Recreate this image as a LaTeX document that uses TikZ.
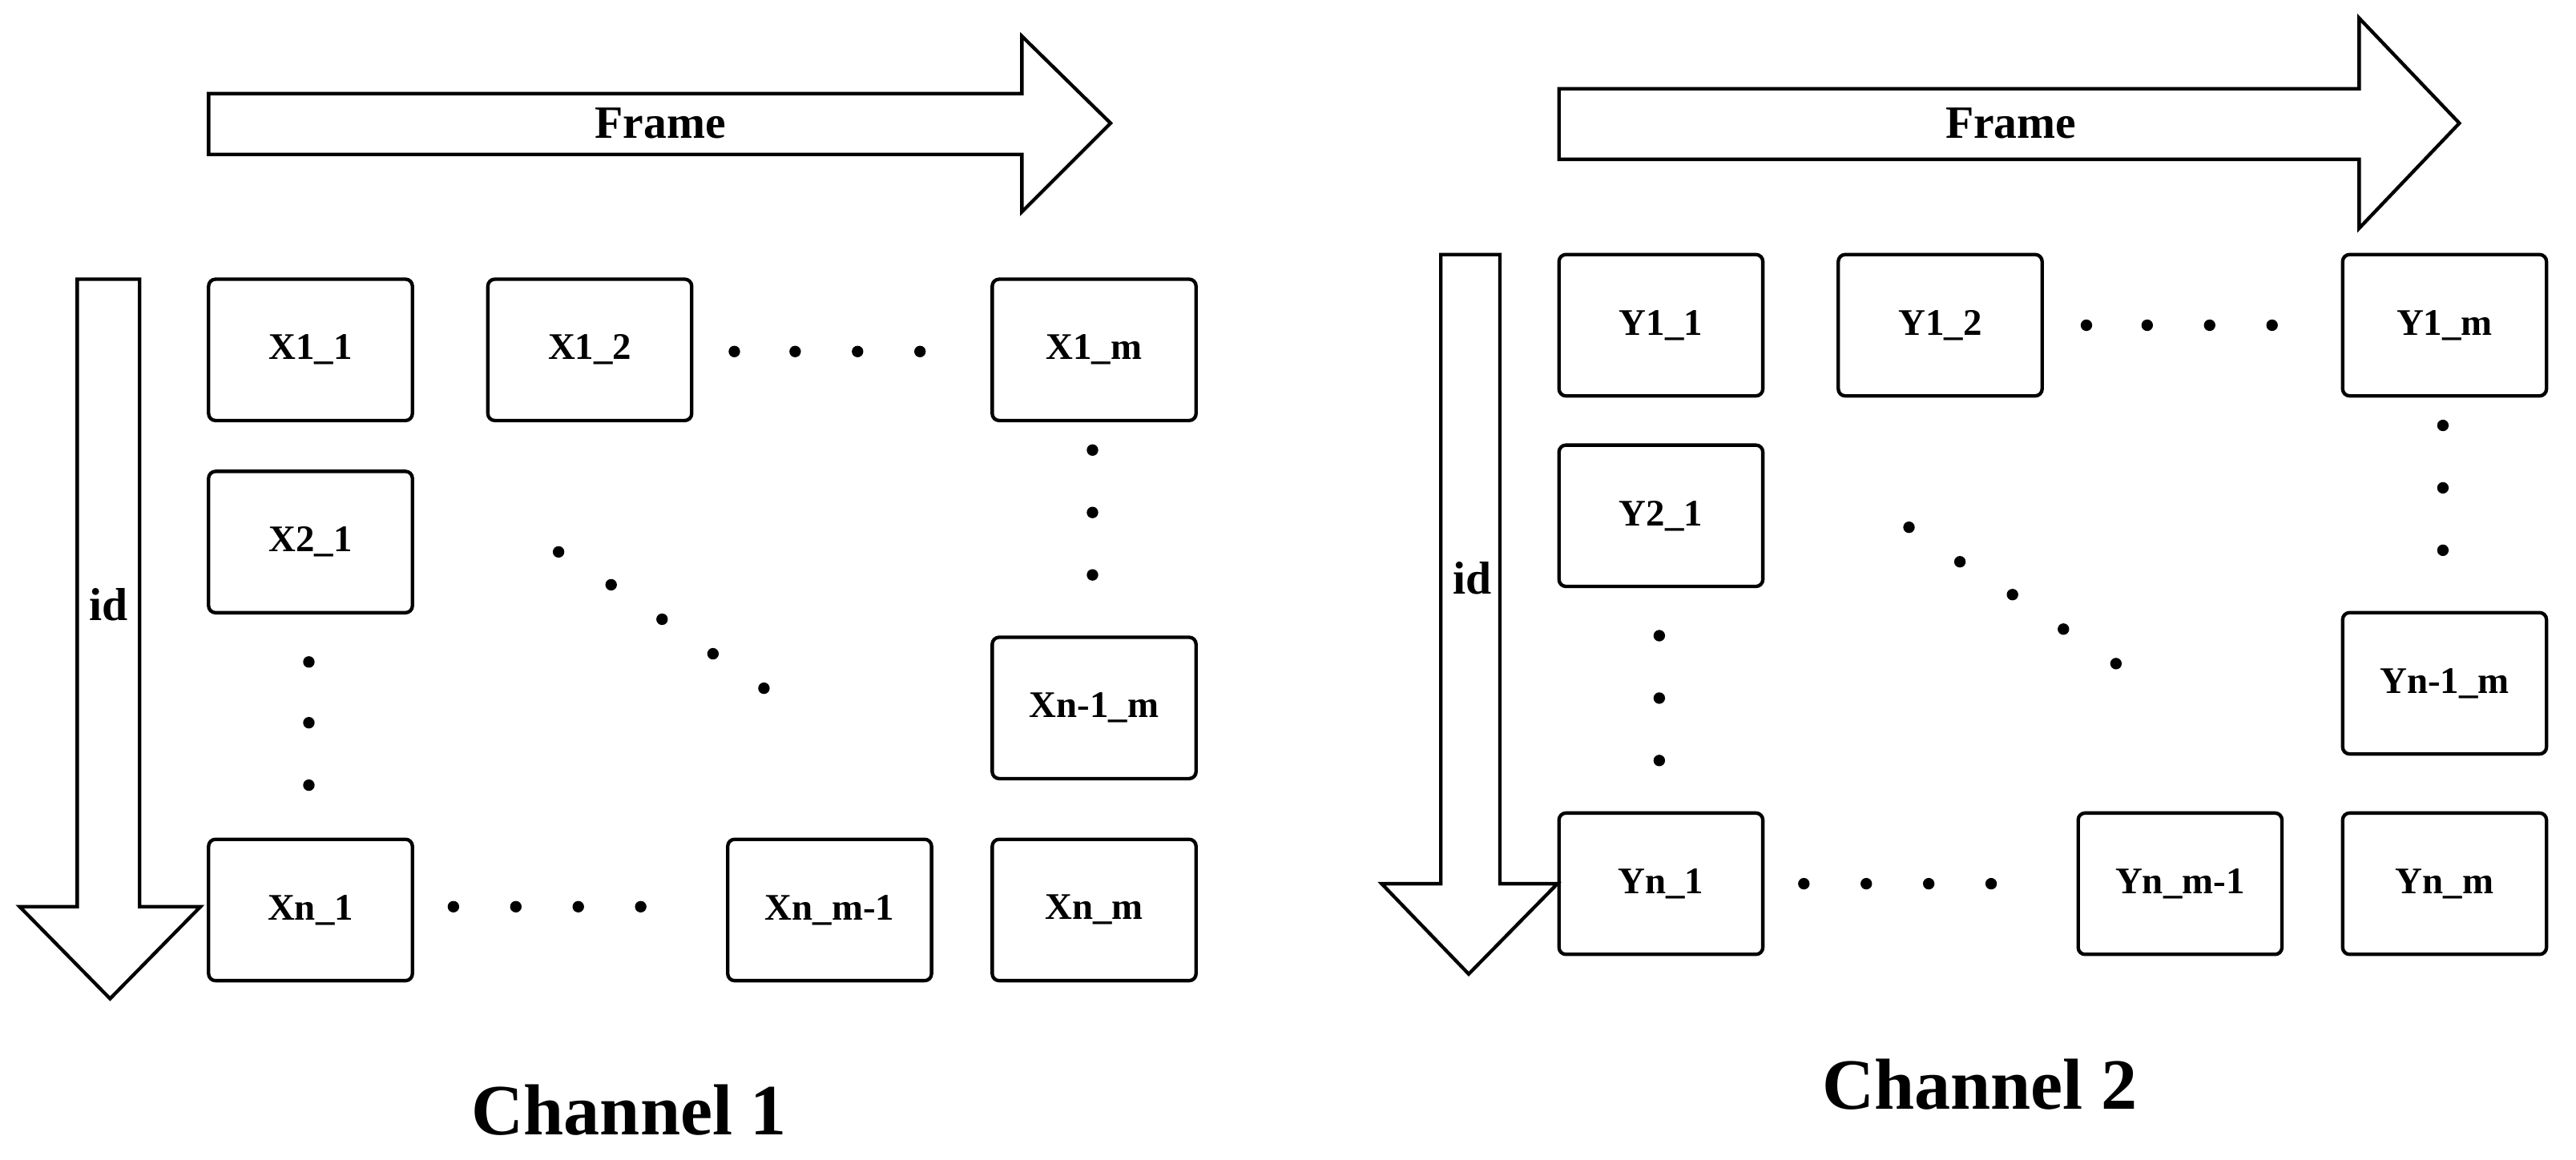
\documentclass[tikz,border=0pt]{standalone}
\usepackage{fontspec}
\setmainfont{Liberation Serif}
\begin{document}
\begin{tikzpicture}[x=0.01cm,y=-0.01cm,
  box/.style={draw,line width=0.6pt,rounded corners=1.2pt,minimum width=1.24cm,minimum height=0.86cm,inner sep=0pt,font=\fontsize{6.5}{7}\selectfont\bfseries},
  arr/.style={draw,line width=0.6pt,fill=white},
  dot/.style={fill=black,draw=none,circle,inner sep=0pt,minimum size=0.07cm},
  lbl/.style={font=\fontsize{8}{9}\selectfont\bfseries}]
\useasboundingbox (0,0) rectangle (1568,706);
% Channel 1 arrows
\draw[arr] (127,57)--(622,57)--(622,22)--(676,75)--(622,129)--(622,94)--(127,94)--cycle;
\node[lbl] (f1) at (402,75) {Frame};
\draw[arr] (47,170)--(85,170)--(85,552)--(122,552)--(67,608)--(12,552)--(47,552)--cycle;
\node[lbl] (i1) at (66,368) {id};
% Channel 1 boxes
\node[box] (x11) at (189,213) {X1\_1};
\node[box] (x12) at (359,213) {X1\_2};
\node[box] (x1m) at (666,213) {X1\_m};
\node[box] (x21) at (189,330) {X2\_1};
\node[box] (xn1m) at (666,431) {Xn-1\_m};
\node[box] (xn1) at (189,554) {Xn\_1};
\node[box] (xnm1) at (505,554) {Xn\_m-1};
\node[box] (xnm) at (666,554) {Xn\_m};
\foreach \x in {447,484,522,560} \node[dot] at (\x,214) {};
\foreach \y in {274,312,350} \node[dot] at (665,\y) {};
\foreach \x/\y in {340/336,372/356,403/377,434/398,465/419} \node[dot] at (\x,\y) {};
\foreach \y in {403,440,478} \node[dot] at (188,\y) {};
\foreach \x in {276,314,352,390} \node[dot] at (\x,552) {};
\node[font=\fontsize{12.5}{14}\selectfont\bfseries] (c1) at (383,676) {Channel 1};
% Channel 2 arrows
\draw[arr] (949,54)--(1436,54)--(1436,11)--(1497,75)--(1436,139)--(1436,97)--(949,97)--cycle;
\node[lbl] (f2) at (1224,75) {Frame};
\draw[arr] (877,155)--(913,155)--(913,538)--(948,538)--(894,593)--(841,538)--(877,538)--cycle;
\node[lbl] (i2) at (896,352) {id};
% Channel 2 boxes
\node[box] (y11) at (1011,198) {Y1\_1};
\node[box] (y12) at (1181,198) {Y1\_2};
\node[box] (y1m) at (1488,198) {Y1\_m};
\node[box] (y21) at (1011,314) {Y2\_1};
\node[box] (yn1m) at (1488,416) {Yn-1\_m};
\node[box] (yn1) at (1011,538) {Yn\_1};
\node[box] (ynm1) at (1327,538) {Yn\_m-1};
\node[box] (ynm) at (1488,538) {Yn\_m};
\foreach \x in {1270,1307,1345,1383} \node[dot] at (\x,198) {};
\foreach \y in {259,297,335} \node[dot] at (1487,\y) {};
\foreach \x/\y in {1162/321,1193/342,1225/362,1256/383,1288/404} \node[dot] at (\x,\y) {};
\foreach \y in {387,425,463} \node[dot] at (1010,\y) {};
\foreach \x in {1098,1136,1174,1212} \node[dot] at (\x,538) {};
\node[font=\fontsize{12.5}{14}\selectfont\bfseries] (c2) at (1205,660) {Channel 2};
\end{tikzpicture}
\end{document}
